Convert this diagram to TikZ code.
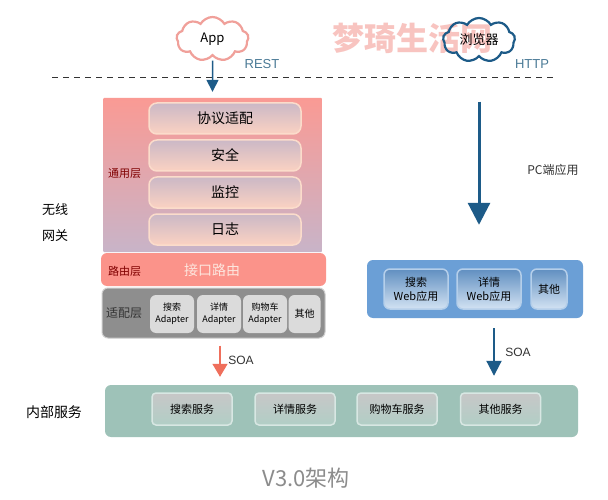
\documentclass[tikz,border=0pt]{standalone}
\usepackage{fontspec}
\setmainfont{Noto Sans CJK SC}
\newfontfamily\latinfont{Liberation Sans}
\usetikzlibrary{shapes.symbols,arrows.meta}
\definecolor{appred}{HTML}{F0A09A}
\definecolor{navy}{HTML}{1D5B88}
\definecolor{restblue}{HTML}{4A7A96}
\definecolor{pinktop}{HTML}{FA9A94}
\definecolor{pinkbot}{HTML}{C8B4C8}
\definecolor{innertop}{HTML}{CBB8C6}
\definecolor{innerbot}{HTML}{FBD2C2}
\definecolor{innerline}{HTML}{FBDCCB}
\definecolor{routered}{HTML}{FB938A}
\definecolor{routetextc}{HTML}{FDE6DE}
\definecolor{slategray}{HTML}{8E8E8E}
\definecolor{webblue}{HTML}{6B9FD6}
\definecolor{tealbox}{HTML}{9EC2B8}
\definecolor{inkgray}{HTML}{333333}
\definecolor{markpink}{HTML}{F8C4C0}
\definecolor{soared}{HTML}{EF6F5C}
\tikzset{
    cloudnode/.style={cloud,cloud puffs=9,cloud puff arc=120,aspect=1.7,inner sep=0pt,
        minimum width=72pt,minimum height=44pt,line width=2.2pt,font=\fontsize{13}{13}\selectfont},
    layerbox/.style={rounded corners=6pt,draw=none,inner sep=0pt},
    commonbox/.style={rounded corners=8pt,draw=#1,line width=1.5pt,inner sep=0pt,align=center,text=black},
    sidelabel/.style={font=\fontsize{11}{11}\selectfont,text=#1},
    protolabel/.style={font=\latinfont\fontsize{13}{13}\selectfont,text=restblue},
    soalabel/.style={font=\latinfont\fontsize{12}{12}\selectfont,text=inkgray},
    navyarrow/.style={navy,-{Triangle[length=#1pt,width=#1pt]}},
}
\begin{document}
\begin{tikzpicture}[x=1pt,y=-1pt]
    \useasboundingbox[fill=white] (0,0) rectangle (608,500);
    \node[text=markpink,font=\bfseries\fontsize{32}{32}\selectfont,inner sep=0pt] (mark) at (412,38) {梦琦生活网};
    \node[cloudnode,draw=appred] (app) at (212.5,39) {App};
    \node[cloudnode,draw=navy] (browser) at (479,40) {浏览器};
    \node[protolabel] (rest) at (262,64) {REST};
    \node[protolabel] (http) at (532,64) {HTTP};
    \coordinate (dashleft) at (52,78);
    \coordinate (dashright) at (555,78);
    \draw[line width=1pt,dash pattern=on 6pt off 5pt,black!80] (dashleft) -- (dashright);

    \node[layerbox,rounded corners=1pt,minimum width=219pt,minimum height=154pt,top color=pinktop,bottom color=pinkbot] (common) at (212.5,175) {};
    \node[commonbox=innerline,minimum width=152pt,minimum height=31pt,top color=innertop,bottom color=innerbot,font=\fontsize{14}{14}\selectfont] (protocol) at (225,118.5) {协议适配};
    \node[commonbox=innerline,minimum width=152pt,minimum height=31pt,top color=innertop,bottom color=innerbot,font=\fontsize{14}{14}\selectfont] (safety) at (225,155.5) {安全};
    \node[commonbox=innerline,minimum width=152pt,minimum height=31pt,top color=innertop,bottom color=innerbot,font=\fontsize{14}{14}\selectfont] (monitor) at (225,192.5) {监控};
    \node[commonbox=innerline,minimum width=152pt,minimum height=31pt,top color=innertop,bottom color=innerbot,font=\fontsize{14}{14}\selectfont] (logging) at (225,229.5) {日志};
    \node[sidelabel=red!50!black] (commonlabel) at (124.5,174) {通用层};

    \node[layerbox,minimum width=225pt,minimum height=33pt,fill=routered] (route) at (213.5,269.5) {};
    \node[sidelabel=red!50!black] (routelabel) at (124.5,271) {路由层};
    \node[text=routetextc,font=\fontsize{14}{14}\selectfont] (routetext) at (212,270) {接口路由};

    \node[layerbox,minimum width=223pt,minimum height=50pt,fill=slategray,draw=black!20,line width=1pt] (adapter) at (213.5,313) {};
    \node[sidelabel=inkgray,font=\fontsize{12}{12}\selectfont] (adapterlabel) at (124,313) {适配层};
    \node[layerbox,minimum width=44pt,minimum height=38pt,fill=black!14,align=center,font=\fontsize{9}{12}\selectfont] (searchadapter) at (172,314) {搜索\\Adapter};
    \node[layerbox,minimum width=44pt,minimum height=38pt,fill=black!14,align=center,font=\fontsize{9}{12}\selectfont] (detailadapter) at (219,314) {详情\\Adapter};
    \node[layerbox,minimum width=44pt,minimum height=38pt,fill=black!14,align=center,font=\fontsize{9}{12}\selectfont] (cartadapter) at (265,314) {购物车\\Adapter};
    \node[layerbox,minimum width=32pt,minimum height=38pt,fill=black!14,align=center,font=\fontsize{10}{12}\selectfont] (otheradapter) at (304.5,314) {其他};

    \node[font=\fontsize{13}{13}\selectfont] (wireless) at (55,210) {无线};
    \node[font=\fontsize{13}{13}\selectfont] (gateway) at (55,236) {网关};

    \node[sidelabel=inkgray,font=\fontsize{12}{12}\selectfont] (pcapp) at (553,170) {PC端应用};

    \node[layerbox,minimum width=216pt,minimum height=58pt,fill=webblue] (web) at (475,289) {};
    \node[commonbox=white!50!webblue,rounded corners=6pt,minimum width=64pt,minimum height=40pt,top color=webblue!90!black,bottom color=webblue!30!white,font=\fontsize{11}{14}\selectfont] (searchweb) at (416,289) {搜索\\Web应用};
    \node[commonbox=white!50!webblue,rounded corners=6pt,minimum width=64pt,minimum height=40pt,top color=webblue!90!black,bottom color=webblue!30!white,font=\fontsize{11}{14}\selectfont] (detailweb) at (489,289) {详情\\Web应用};
    \node[commonbox=white!50!webblue,rounded corners=6pt,minimum width=36pt,minimum height=40pt,top color=webblue!90!black,bottom color=webblue!30!white,font=\fontsize{11}{14}\selectfont] (otherweb) at (549,289) {其他};

    \node[layerbox,minimum width=473pt,minimum height=52pt,fill=tealbox] (service) at (341.5,411) {};
    \node[commonbox=white!60!tealbox,rounded corners=4pt,minimum width=80pt,minimum height=32pt,top color=black!22,bottom color=tealbox!80!white,font=\fontsize{11}{11}\selectfont] (searchservice) at (192,409) {搜索服务};
    \node[commonbox=white!60!tealbox,rounded corners=4pt,minimum width=80pt,minimum height=32pt,top color=black!22,bottom color=tealbox!80!white,font=\fontsize{11}{11}\selectfont] (detailservice) at (295,409) {详情服务};
    \node[commonbox=white!60!tealbox,rounded corners=4pt,minimum width=80pt,minimum height=32pt,top color=black!22,bottom color=tealbox!80!white,font=\fontsize{11}{11}\selectfont] (cartservice) at (397,409) {购物车服务};
    \node[commonbox=white!60!tealbox,rounded corners=4pt,minimum width=80pt,minimum height=32pt,top color=black!22,bottom color=tealbox!80!white,font=\fontsize{11}{11}\selectfont] (otherservice) at (500.5,409) {其他服务};
    \node[font=\fontsize{14}{14}\selectfont] (innerservice) at (54,412) {内部服务};

    \node[soalabel] (soaleft) at (241,360) {SOA};
    \node[soalabel] (soaright) at (518,352) {SOA};
    \node[text=black!45,font=\fontsize{22}{22}\selectfont] (title) at (306,478) {V3.0架构};

    \draw[navyarrow=12,line width=1.5pt,shorten <=4pt,shorten >=6pt] (app.south) -- (common.north);
    \draw[navyarrow=22,line width=3pt,shorten <=44pt,shorten >=35pt] (browser.south) -- (browser.south |- web.north);
    \draw[-{Triangle[length=13pt,width=15pt]},color=soared,line width=1.5pt,shorten <=7pt,shorten >=8pt] ([xshift=6.5pt]adapter.south) -- ([xshift=6.5pt]adapter.south |- service.north);
    \draw[navyarrow=15,line width=2pt,shorten <=10pt,shorten >=9pt] ([xshift=19pt]web.south) -- ([xshift=19pt]web.south |- service.north);
\end{tikzpicture}
\end{document}
